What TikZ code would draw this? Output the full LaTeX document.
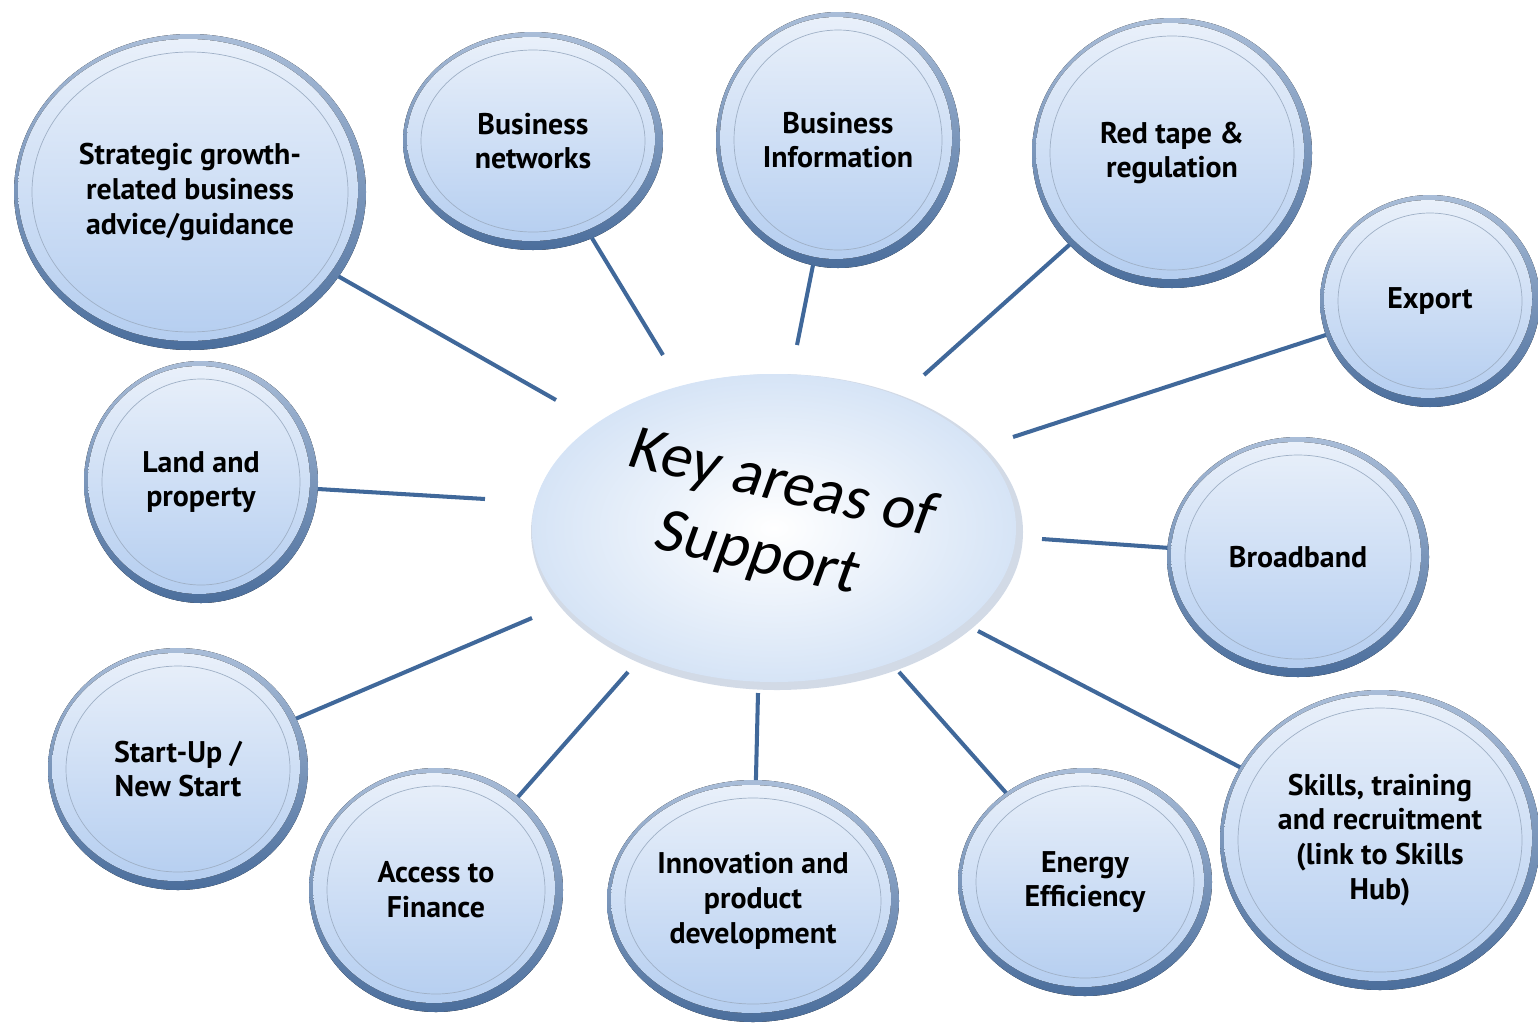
\documentclass[tikz,border=0pt]{standalone}
\usepackage{fontspec}
\setmainfont{PT Sans}
\newfontfamily\hubfont{Carlito}
\usetikzlibrary{shapes.geometric}

\definecolor{rimtop}{HTML}{A9BDD8}
\definecolor{rimbot}{HTML}{4B6E9C}
\definecolor{facetop}{HTML}{E9F0FA}
\definecolor{facebot}{HTML}{B5CEF0}
\definecolor{ringcol}{HTML}{9FB0C6}
\definecolor{spokecol}{HTML}{40689A}
\definecolor{hubrim}{HTML}{D2DAE6}
\definecolor{hubedge}{HTML}{D6E4F6}

\tikzset{
  bubble rim/.style={top color=rimtop, bottom color=rimbot},
  bubble face/.style={top color=facetop, bottom color=facebot},
  bubble ring/.style={draw=ringcol, line width=0.4pt},
  bubble/.style={ellipse, inner sep=0pt, outer sep=0pt, align=center,
    font=\bfseries\fontsize{17}{19.8}\selectfont},
  spoke/.style={draw=spokecol, line width=2.3pt},
}

% name, x, y, x radius, y radius, text
\newcommand{\bubble}[6]{%
  \fill[bubble rim] (#2,#3) ellipse [x radius=#4, y radius=#5];
  \fill[bubble face] ({#2-2},{#3+2}) ellipse [x radius={#4-6}, y radius={#5-7}];
  \draw[bubble ring] (#2,#3) ellipse [x radius={#4-18}, y radius={#5-18}];
  \node[bubble, minimum width={2*#4*0.02cm}, minimum height={2*#5*0.02cm}] (#1) at (#2,#3) {#6};
}

\begin{document}
\begin{tikzpicture}[x=0.02cm, y=0.02cm]
\useasboundingbox (0,0) rectangle (1538,-1025);

% centre
\fill[hubrim] (777,-532) ellipse [x radius=246, y radius=158];
\shade[inner color=white, outer color=hubedge] (774,-528) ellipse [x radius=242, y radius=154];
\node[rotate=-13, xslant=0.12, align=center, inner sep=0pt,
  font=\hubfont\fontsize{36}{42}\selectfont] (hub) at (770,-520) {Key areas of\\Support};

% bubbles
\bubble{strat}{190}{-192}{176}{158}{Strategic growth-\\related business\\advice/guidance}
\bubble{networks}{533}{-141}{130}{109}{Business\\networks}
\bubble{info}{838}{-140}{122}{128}{Business\\Information}
\bubble{redtape}{1172}{-153}{140}{135}{Red tape \&\\regulation}
\bubble{export}{1430}{-301}{110}{106}{Export}
\bubble{broadband}{1298}{-557}{131}{120}{Broadband}
\bubble{skills}{1380}{-840}{160}{150}{Skills, training\\and recruitment\\(link to Skills\\Hub)}
\bubble{energy}{1085}{-882}{127}{114}{Energy\\Efficiency}
\bubble{innov}{753}{-901}{146}{121}{Innovation and\\product\\development}
\bubble{finance}{436}{-890}{127}{122}{Access to\\Finance}
\bubble{startup}{178}{-769}{130}{121}{Start-Up /\\New Start}
\bubble{land}{201}{-482}{117}{121}{Land and\\property}

% spoke ends near the centre
\coordinate (e-strat) at (556,-400);
\coordinate (e-networks) at (663,-355);
\coordinate (e-info) at (797,-345);
\coordinate (e-redtape) at (924,-375);
\coordinate (e-export) at (1013,-437);
\coordinate (e-broadband) at (1042,-539);
\coordinate (e-skills) at (978,-631);
\coordinate (e-energy) at (899,-672);
\coordinate (e-innov) at (758,-693);
\coordinate (e-finance) at (628,-672);
\coordinate (e-startup) at (532,-618);
\coordinate (e-land) at (485,-499);

\foreach \n in {strat,networks,info,redtape,export,broadband,skills,energy,innov,finance,startup,land}
  \draw[spoke] (\n) -- (e-\n);

\end{tikzpicture}
\end{document}
